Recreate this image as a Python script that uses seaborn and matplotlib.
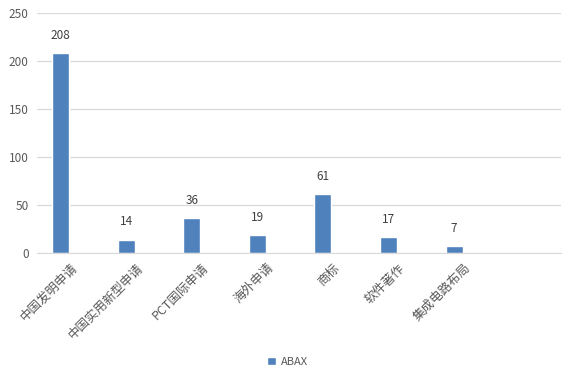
import pandas as pd
import matplotlib.pyplot as plt
import matplotlib.transforms as mtransforms
import seaborn as sns

categories = ['中国发明申请', '中国实用新型申请', 'PCT国际申请', '海外申请', '商标', '软件著作', '集成电路布局']
values = [208, 14, 36, 19, 61, 17, 7]
series_name = 'ABAX'
yticks = [0, 50, 100, 150, 200, 250]

df = pd.DataFrame({'cat': categories, 'value': values, 'series': series_name})

sns.set_style('white')
plt.rcParams['font.family'] = ['Noto Sans CJK SC', 'DejaVu Sans']

fig = plt.figure(figsize=(5.75, 3.73), dpi=100)
ax = fig.add_axes([0.0643, 0.3217, 0.9114, 0.6433])

sns.barplot(data=df, x='cat', y='value', color='#4F81BD', saturation=1,
            width=0.26, ax=ax, label=series_name)
if ax.get_legend() is not None:
    ax.get_legend().remove()

for i, v in enumerate(values):
    ax.annotate(str(v), (i, v), xytext=(0, 8), textcoords='offset points',
                ha='center', va='bottom', fontsize=8.5, color='#404040')

ax.set_xlim(-0.36, 7.63)
ax.set_ylim(0, 250)
ax.set_yticks(yticks)
ax.yaxis.grid(True, color='#D9D9D9', linewidth=0.9)
ax.set_axisbelow(True)
for s in ['top', 'right', 'left']:
    ax.spines[s].set_visible(False)
ax.spines['bottom'].set_color('#D9D9D9')
ax.tick_params(axis='both', length=0, labelsize=8.5, colors='#595959', pad=6)
ax.set_xticks(range(len(categories)))
ax.set_xticklabels(categories, rotation=45, ha='right', rotation_mode='anchor', fontsize=9)
shift = mtransforms.ScaledTranslation(0.10, 0.0, fig.dpi_scale_trans)
for lbl in ax.get_xticklabels():
    lbl.set_transform(lbl.get_transform() + shift)
ax.set_xlabel('')
ax.set_ylabel('')

handles, labels = ax.get_legend_handles_labels()
leg = fig.legend(handles, labels, loc='center', bbox_to_anchor=(0.5, 0.03), frameon=False,
                 fontsize=8, handlelength=0.8, handleheight=0.8, handletextpad=0.4)
for t in leg.get_texts():
    t.set_color('#595959')

fig.savefig('out.png', dpi=100)
